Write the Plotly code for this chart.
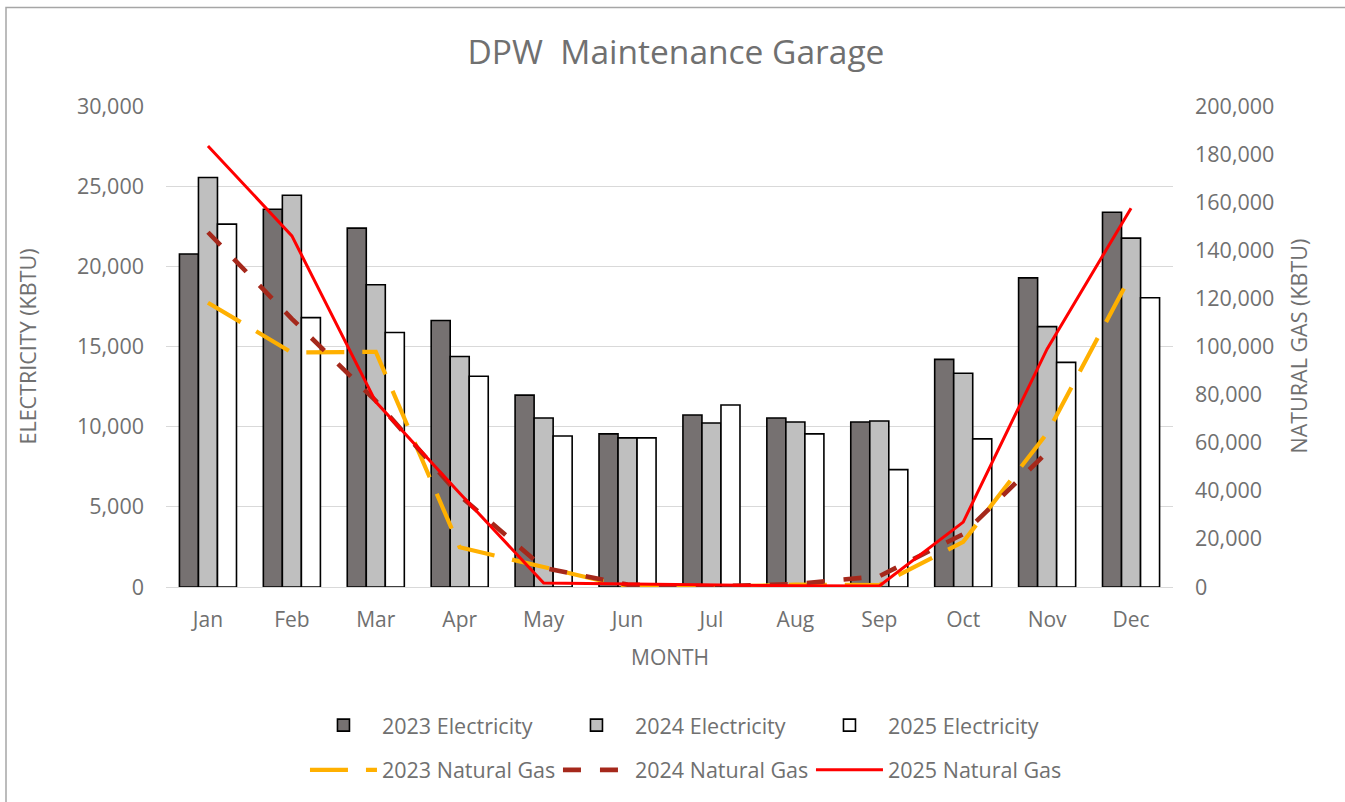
import plotly.graph_objects as go

months = ["Jan", "Feb", "Mar", "Apr", "May", "Jun", "Jul", "Aug", "Sep", "Oct", "Nov", "Dec"]

elec_2023 = [20770, 23560, 22380, 16620, 11970, 9550, 10730, 10540, 10290, 14200, 19280, 23370]
elec_2024 = [25540, 24430, 18850, 14380, 10540, 9300, 10230, 10290, 10350, 13330, 16240, 21760]
elec_2025 = [22630, 16800, 15870, 13140, 9420, 9300, 11350, 9550, 7320, 9240, 14010, 18040]

gas_2023 = [118200, 97500, 97800, 16500, 8300, 0, 0, 1000, 800, 18800, 64000, 129700]
gas_2024 = [147500, 111500, 77400, 38000, 8000, 1000, 300, 1200, 4500, 22000, 56000, None]
gas_2025 = [183400, 146000, 77000, 39000, 1700, 1200, 800, 500, 400, 27000, 99000, 157500]

left_ticks = [0, 5000, 10000, 15000, 20000, 25000, 30000]
right_ticks = [0, 20000, 40000, 60000, 80000, 100000, 120000, 140000, 160000, 180000, 200000]

FONT = "Open Sans, Lato, sans-serif"
TXT = "#707070"

fig = go.Figure()

bar_specs = [
    ("2023 Electricity", elec_2023, "#767171"),
    ("2024 Electricity", elec_2024, "#BFBFBF"),
    ("2025 Electricity", elec_2025, "#FFFFFF"),
]
for name, vals, col in bar_specs:
    fig.add_trace(go.Bar(
        x=months, y=vals, name=name, yaxis="y", legend="legend",
        marker=dict(color=col, line=dict(color="#000000", width=1.6)),
    ))

line_specs = [
    ("2023 Natural Gas", gas_2023, "#FFB000", 4.2, "38px,18px"),
    ("2024 Natural Gas", gas_2024, "#A5281B", 4.6, "18px,19px"),
    ("2025 Natural Gas", gas_2025, "#FF0000", 3.0, "solid"),
]
for name, vals, col, w, dash in line_specs:
    fig.add_trace(go.Scatter(
        x=months, y=vals, name=name, yaxis="y2", legend="legend2",
        mode="lines", connectgaps=False,
        line=dict(color=col, width=w, dash=dash),
    ))

fig.update_layout(
    width=1345, height=802,
    margin=dict(l=166, r=172, t=106, b=212),
    paper_bgcolor="white", plot_bgcolor="white",
    font=dict(family=FONT, color=TXT, size=21),
    barmode="group", bargap=0.32, bargroupgap=0,
    title=dict(text="DPW  Maintenance Garage", x=0.5026, xanchor="center",
               y=1 - 52 / 802, yanchor="middle", yref="container",
               font=dict(family=FONT, size=33.5, color=TXT)),
    xaxis=dict(showgrid=False, showline=True, linecolor="#D9D9D9", linewidth=1.3,
               ticks="", ticklabelstandoff=14, tickfont=dict(size=21, color=TXT)),
    yaxis=dict(range=[0, 30000], tickvals=left_ticks, tickformat=",",
               showgrid=True, gridcolor="#D9D9D9", gridwidth=1.3,
               zeroline=True, zerolinecolor="#D9D9D9", zerolinewidth=1.3,
               ticks="", ticklabelstandoff=21, tickfont=dict(size=21.5, color=TXT)),
    yaxis2=dict(range=[0, 200000], tickvals=right_ticks, tickformat=",",
                overlaying="y", side="right", showgrid=False, zeroline=False,
                ticks="", ticklabelstandoff=21, tickfont=dict(size=21.5, color=TXT)),
    legend=dict(orientation="h", x=0.138, xanchor="left", y=-(729 - 590) / 484, yanchor="middle",
                entrywidth=171, itemwidth=67, traceorder="normal",
                font=dict(size=21.5, color=TXT), bgcolor="rgba(0,0,0,0)"),
    legend2=dict(orientation="h", x=0.138, xanchor="left", y=-(774 - 590) / 484, yanchor="middle",
                 entrywidth=171, itemwidth=67, traceorder="normal",
                 font=dict(size=21.5, color=TXT), bgcolor="rgba(0,0,0,0)"),
    showlegend=True,
)

# axis titles
fig.add_annotation(text="MONTH", xref="paper", yref="paper", x=0.5, y=-(660 - 590) / 484,
                   showarrow=False, font=dict(size=21, color=TXT), xanchor="center", yanchor="middle")
fig.add_annotation(text="ELECTRICITY (KBTU)", xref="paper", yref="paper",
                   x=(27 - 166) / 1007, y=(590 - 348) / 484, textangle=-90, showarrow=False,
                   font=dict(size=21.5, color=TXT), xanchor="center", yanchor="middle")
fig.add_annotation(text="NATURAL GAS (KBTU)", xref="paper", yref="paper",
                   x=(1298 - 166) / 1007, y=(590 - 348) / 484, textangle=-90, showarrow=False,
                   font=dict(size=21.5, color=TXT), xanchor="center", yanchor="middle")

# chart border (frame extends beyond the visible window on right and bottom)
fig.add_shape(type="rect", xref="paper", yref="paper",
              x0=(6 - 166) / 1007, x1=(1360 - 166) / 1007,
              y0=(590 - 820) / 484, y1=(590 - 7) / 484,
              line=dict(color="#A6A6A6", width=1.5), fillcolor="rgba(0,0,0,0)", layer="below")

fig.write_html("out.html", config={"displayModeBar": False},
               post_script="document.body.style.margin='0px';")
